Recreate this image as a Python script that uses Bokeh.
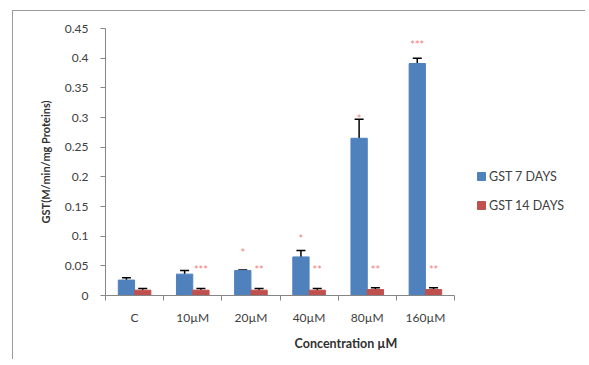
from bokeh.plotting import figure
from bokeh.models import (ColumnDataSource, FixedTicker, Whisker, TeeHead,
                          Legend, LegendItem, Range1d)
from bokeh.core.properties import value
from bokeh.embed import file_html
from bokeh.resources import INLINE

categories = ["C", "10\u00b5M", "20\u00b5M", "40\u00b5M", "80\u00b5M", "160\u00b5M"]
gst7 = [0.026, 0.036, 0.042, 0.065, 0.265, 0.391]
gst7_err = [0.004, 0.006, 0.001, 0.011, 0.032, 0.009]
gst14 = [0.009, 0.009, 0.009, 0.009, 0.010, 0.010]
gst14_err = [0.003, 0.003, 0.003, 0.003, 0.003, 0.003]
stars7 = ["", "", "*", "*", "*", "***"]
stars7_y = [0.0, 0.0, 0.072, 0.096, 0.298, 0.423]
stars14 = ["", "***", "**", "**", "**", "**"]
stars14_y = [0.0, 0.043, 0.043, 0.043, 0.044, 0.044]
y_ticks = [0, 0.05, 0.1, 0.15, 0.2, 0.25, 0.3, 0.35, 0.4, 0.45]
y_tick_labels = ["0", "0.05", "0.1", "0.15", "0.2", "0.25", "0.3", "0.35", "0.4", "0.45"]

BLUE = "#4F81BD"
RED = "#C0504D"
STAR = "#F08080"
FONT = "Lato"

n = len(categories)
centers = [i + 0.5 for i in range(n)]
x7 = [c - 0.14 for c in centers]
x14 = [c + 0.14 for c in centers]

src7 = ColumnDataSource(dict(x=x7, top=gst7, upper=[v + e for v, e in zip(gst7, gst7_err)],
                             star=stars7, sy=stars7_y))
src14 = ColumnDataSource(dict(x=x14, top=gst14, upper=[v + e for v, e in zip(gst14, gst14_err)],
                              star=stars14, sy=stars14_y))

# plot frame spans the legend area too; the category axis is bounded to [0, n]
PLOT_W, CAT_W = 481, 349
p = figure(width=573, height=349, output_backend="svg", toolbar_location=None,
           x_range=Range1d(0, n * PLOT_W / CAT_W), y_range=Range1d(0, 0.45),
           min_border_left=92, min_border_right=0, min_border_top=17,
           min_border_bottom=65)
p.styles = {"border-left": "1px solid #9a9a9a", "border-top": "1px solid #9a9a9a",
            "position": "relative", "left": "12px", "top": "10px"}
p.outline_line_color = None
p.xgrid.visible = False
p.ygrid.visible = False
p.background_fill_color = "white"
p.border_fill_color = "white"

r7 = p.vbar(x="x", top="top", width=0.28, bottom=0, source=src7,
            fill_color=BLUE, line_color=BLUE)
r14 = p.vbar(x="x", top="top", width=0.28, bottom=0, source=src14,
             fill_color=RED, line_color=RED)

for src in (src7, src14):
    w = Whisker(base="x", lower="top", upper="upper", source=src,
                line_color="black", line_width=1.5,
                upper_head=TeeHead(size=9, line_color="black", line_width=1.5),
                lower_head=None)
    p.add_layout(w)

for src in (src7, src14):
    p.text(x="x", y="sy", text="star", source=src, text_color=STAR,
           text_font=value(FONT), text_font_size="11px", text_align="center",
           text_baseline="middle")

# axes
xa = p.xaxis[0]
xa.bounds = (0, n)
xa.ticker = FixedTicker(ticks=centers, minor_ticks=list(range(n + 1)))
xa.major_label_overrides = {c: lab for c, lab in zip(centers, categories)}
xa.major_tick_line_color = None
xa.minor_tick_in = 0
xa.minor_tick_out = 5
xa.minor_tick_line_color = "#868686"
xa.axis_line_color = "#868686"
xa.major_label_text_font = FONT
xa.major_label_text_font_size = "12px"
xa.major_label_text_color = "#404040"
xa.major_label_standoff = 8
xa.axis_label = "Concentration \u00b5M"
xa.axis_label_text_font = FONT
xa.axis_label_text_font_style = "bold"
xa.axis_label_text_font_size = "12.5px"
xa.axis_label_text_color = "#303030"
xa.axis_label_standoff = 8

ya = p.yaxis[0]
ya.ticker = FixedTicker(ticks=y_ticks, minor_ticks=[])
ya.major_label_overrides = {t: l for t, l in zip(y_ticks, y_tick_labels)}
ya.major_tick_in = 0
ya.major_tick_out = 5
ya.major_tick_line_color = "#868686"
ya.axis_line_color = "#868686"
ya.major_label_text_font = FONT
ya.major_label_text_font_size = "12px"
ya.major_label_text_color = "#404040"
ya.major_label_standoff = 12
ya.axis_label = "GST(M/min/mg Proteins)"
ya.axis_label_text_font = FONT
ya.axis_label_text_font_style = "bold"
ya.axis_label_text_font_size = "11px"
ya.axis_label_text_color = "#303030"
ya.axis_label_standoff = 10

legend = Legend(items=[LegendItem(label="GST 7 DAYS", renderers=[r7]),
                       LegendItem(label="GST 14 DAYS", renderers=[r14])],
                location=(371, 82), orientation="vertical",
                border_line_color=None, background_fill_alpha=0,
                glyph_width=10, glyph_height=10, label_standoff=3,
                spacing=13, padding=0, margin=0, label_height=16,
                label_text_font=FONT, label_text_font_size="12.5px",
                label_text_color="#404040")
p.add_layout(legend, "center")

open("out.html", "w").write(file_html(p, INLINE))
